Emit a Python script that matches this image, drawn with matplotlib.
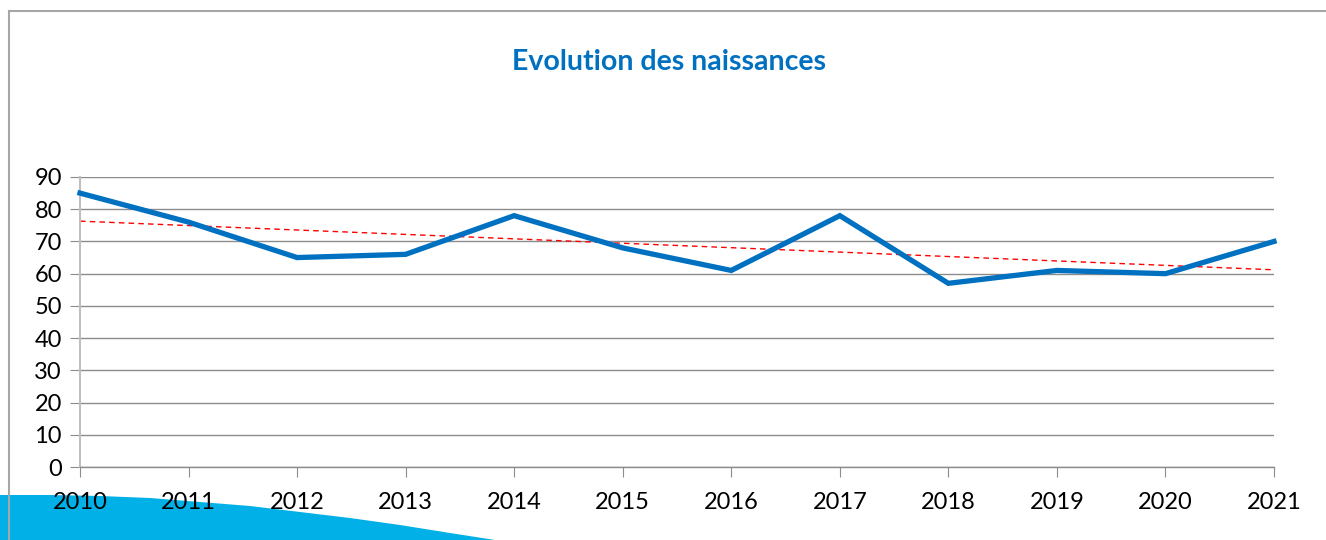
import matplotlib
matplotlib.use("Agg")
import matplotlib.pyplot as plt
from matplotlib.lines import Line2D
from matplotlib.patches import Polygon
import numpy as np

years = ["2010", "2011", "2012", "2013", "2014", "2015", "2016", "2017", "2018", "2019", "2020", "2021"]
births = [85, 76, 65, 66, 78, 68, 61, 78, 57, 61, 60, 70]
trend_ends = [76.3, 61.2]
y_ticks = [0, 10, 20, 30, 40, 50, 60, 70, 80, 90]
title = "Evolution des naissances"

plt.rcParams['font.family'] = ['Lato', 'DejaVu Sans']

W, H = 1326, 540
fig = plt.figure(figsize=(W / 100, H / 100), dpi=100)

def fx(px):
    return px / W

def fy(py):
    return 1 - py / H

# decorative swoosh
sx = np.array([0, 50, 100, 150, 200, 250, 300, 350, 400, 450, 495])
sy = np.array([495, 495, 496, 498, 502, 506, 512, 518, 525, 533, 540])
pts = [(fx(a), fy(b)) for a, b in zip(sx, sy)] + [(fx(495), fy(541)), (fx(0), fy(541))]
fig.patches.append(Polygon(pts, closed=True, transform=fig.transFigure,
                           facecolor="#00B0E6", edgecolor="none", zorder=-5))

# frame
fig.add_artist(Line2D([fx(9), fx(9)], [fy(11), 0], transform=fig.transFigure, color="#A6A6A6", lw=1.5, zorder=-4))
fig.add_artist(Line2D([fx(9), 1], [fy(11), fy(11)], transform=fig.transFigure, color="#A6A6A6", lw=1.5, zorder=-4))

ax = fig.add_axes([fx(80), fy(467), fx(1274) - fx(80), fy(177) - fy(467)])
ax.set_zorder(2)
ax.set_facecolor("none")
x = np.arange(len(years))
ax.plot(x, births, color="#0070C0", lw=3.8, solid_joinstyle="miter", zorder=3, clip_on=False)
ax.plot([x[0], x[-1]], trend_ends, color="#FF0000", lw=1.0, ls=(0, (4, 3)), zorder=2, clip_on=False)

ax.set_xlim(0, len(years) - 1)
ax.set_ylim(0, 90)
ax.set_yticks(y_ticks)
ax.set_xticks(x)
ax.set_xticklabels(years)
ax.yaxis.grid(True, color="#8C8C8C", lw=1.0)
ax.set_axisbelow(True)
for s in ["top", "right"]:
    ax.spines[s].set_visible(False)
ax.spines["left"].set_color("#BFBFBF")
ax.spines["left"].set_linewidth(1.5)
ax.spines["bottom"].set_color("#8C8C8C")
ax.spines["bottom"].set_linewidth(1.0)
ax.tick_params(axis="y", length=7, color="#8C8C8C", labelsize=17, pad=6, labelcolor="black")
ax.tick_params(axis="x", length=7, color="#8C8C8C", labelsize=17, pad=11, labelcolor="black")

fig.text(fx(669), fy(62), title, ha="center", va="center", fontsize=20.5, fontweight="bold", color="#0070C0")

fig.savefig("out.png", dpi=100)
